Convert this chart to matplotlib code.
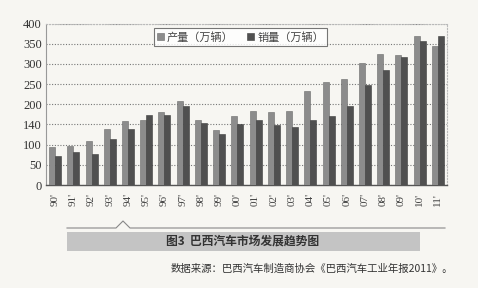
import numpy as np
import matplotlib
matplotlib.use('Agg')
import matplotlib.pyplot as plt
from matplotlib.patches import Rectangle

plt.rcParams['font.family'] = ['Noto Sans CJK SC', 'DejaVu Sans']

# 数据
years = ["90'", "91'", "92'", "93'", "94'", "95'", "96'", "97'", "98'", "99'", "00'",
         "01'", "02'", "03'", "04'", "05'", "06'", "07'", "08'", "09'", "10'", "11'"]
production = [93, 97, 108, 139, 159, 162, 181, 208, 160, 136, 171,
              184, 180, 184, 234, 254, 263, 302, 324, 322, 368, 345]
sales = [73, 81, 77, 115, 139, 174, 174, 196, 153, 126, 150,
         162, 149, 143, 161, 172, 195, 248, 285, 317, 356, 368]
y_ticks = [0, 50, 100, 150, 200, 250, 300, 350, 400]
y_labels = ['0', '50', '100', '140', '200', '250', '300', '350', '400']

bg = '#f7f6f2'
fig = plt.figure(figsize=(4.78, 2.88), dpi=100, facecolor=bg)
W, H = 478, 288
ax = fig.add_axes([46 / W, (H - 185) / H, (447 - 46) / W, (185 - 23.5) / H])
ax.set_facecolor(bg)

x = np.arange(len(years))
w = 0.33
ax.bar(x - w / 2, production, w, color='#8c8c8c', edgecolor='#6a6a6a', linewidth=0.4,
       label='产量（万辆）', zorder=3)
ax.bar(x + w / 2, sales, w, color='#505050', edgecolor='#3c3c3c', linewidth=0.4,
       label='销量（万辆）', zorder=3)

ax.set_xlim(-0.5, len(years) - 0.5)
ax.set_ylim(0, 400)
ax.set_yticks(y_ticks)
ax.set_yticklabels(y_labels)
ax.set_xticks(x)
ax.set_xticklabels(years, rotation=90)
ax.tick_params(axis='both', length=0, pad=3, labelfontfamily='Liberation Serif')
ax.tick_params(axis='y', labelsize=9, labelcolor='#333333')
ax.tick_params(axis='x', pad=6, labelsize=8, labelcolor='#444444')
ax.grid(axis='y', linestyle=(0, (1, 1.5)), color='#777777', linewidth=0.8, zorder=0)

for s in ['top', 'right']:
    ax.spines[s].set_color('#bbbbbb')
    ax.spines[s].set_linestyle(':')
    ax.spines[s].set_linewidth(0.8)
ax.spines['left'].set_color('#999999')
ax.spines['left'].set_linewidth(0.8)
ax.spines['bottom'].set_color('#555555')
ax.spines['bottom'].set_linewidth(1.0)

leg = ax.legend(loc='upper center', bbox_to_anchor=(0.485, 1.005), ncol=2, fontsize=8,
                frameon=True, fancybox=False, handlelength=0.6, handleheight=0.6,
                handletextpad=0.3, columnspacing=1.2, borderpad=0.3)
leg.get_frame().set_edgecolor('#555555')
leg.get_frame().set_linewidth(0.8)
leg.get_frame().set_facecolor('white')
for t in leg.get_texts():
    t.set_color('#444444')

# 图题区域
line_y = 1 - 228 / H
xs = np.array([67, 116, 123, 130, 445]) / W
ys = np.array([line_y, line_y, 1 - 221 / H, line_y, line_y])
fig.add_artist(plt.Line2D(xs, ys, color='#888888', linewidth=0.8))
fig.add_artist(Rectangle((67 / W, 1 - 251 / H), (420 - 67) / W, 19 / H,
                         transform=fig.transFigure, facecolor='#c4c4c4', edgecolor='none'))
fig.text(243 / W, 1 - 241.5 / H, '图3  巴西汽车市场发展趋势图', ha='center', va='center',
         fontsize=8.5, fontweight='bold', color='#333333')
fig.text(453 / W, 1 - 269 / H, '数据来源：巴西汽车制造商协会《巴西汽车工业年报2011》。',
         ha='right', va='center', fontsize=7.5, color='#333333')

fig.savefig('out.png', dpi=100, facecolor=bg)
